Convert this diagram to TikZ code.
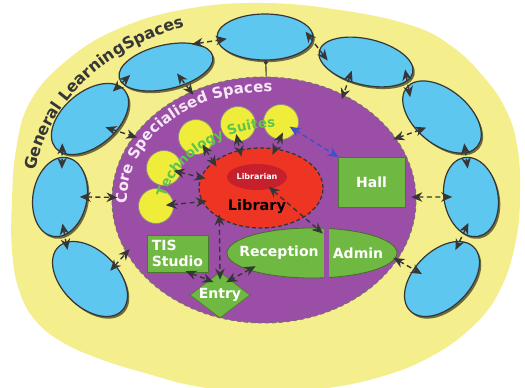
\documentclass[tikz,border=0pt]{standalone}
\usepackage{fontspec}
\setmainfont{DejaVu Sans}
\usetikzlibrary{shapes.geometric,arrows.meta,decorations.text,shadows}
\definecolor{ybg}{HTML}{F4EE8C}
\definecolor{blu}{HTML}{5EC7EF}
\definecolor{pur}{HTML}{9B4EA6}
\definecolor{redl}{HTML}{EE3524}
\definecolor{redd}{HTML}{C5202C}
\definecolor{grn}{HTML}{6FB841}
\definecolor{ycol}{HTML}{EFEC3A}
\definecolor{ink}{HTML}{363636}
\definecolor{tgrn}{HTML}{5EC44C}
\definecolor{arrblue}{HTML}{4050C8}
\definecolor{corewhite}{HTML}{F8E8F6}
\begin{document}
\begin{tikzpicture}[x=1pt,y=-1pt,
  blueell/.style={ellipse, draw=ink, line width=1.2pt, fill=blu, inner sep=0pt,
     drop shadow={shadow xshift=1.8pt, shadow yshift=-2.2pt, opacity=0.55, fill=black}},
  conn/.style={draw=ink, line width=1.4pt, dash pattern=on 5pt off 3.5pt,
     >={Stealth[length=11pt,width=9.5pt,inset=3.5pt]}, <->},
  gbox/.style={fill=grn, draw=grn!65!black, line width=0.6pt, text=white,
     font=\fontsize{14}{16}\selectfont\bfseries, inner sep=0pt},
  suite/.style={circle, fill=ycol, draw=black!45, line width=0.7pt, minimum size=35pt, inner sep=0pt},
  lbl/.style={text=white, font=\fontsize{14}{16}\selectfont\bfseries, inner sep=0pt}
]
\useasboundingbox (0,0) rectangle (525,388);
\fill[white] (0,0) rectangle (525,388);

% general learning area
\fill[ybg] plot[smooth cycle, tension=0.7] coordinates {
 (262,3) (340,10) (410,25) (450,45) (482,75) (505,108) (517,145) (520,190)
 (516,240) (500,290) (472,327) (430,357) (380,377) (320,389) (255,393)
 (195,386) (145,373) (100,359) (62,342) (35,320) (19,290) (12,250) (12,200)
 (16,150) (30,102) (66,61) (118,29) (186,9)};

% core specialised spaces
\node[ellipse, fill=pur, draw=ink!70, line width=1pt, dash pattern=on 4pt off 3pt,
  minimum width=304pt, minimum height=246pt, inner sep=0pt] (core) at (264,200) {};

\path[decorate, decoration={text along path, text align=center,
  text={|\fontsize{15}{15}\selectfont\bfseries\color{corewhite}|Core Specialised Spaces}}]
  plot[domain=0:110, samples=80] ({264+137*cos(190-\x)}, {200-108*sin(190-\x)});

% blue learning spaces
\node[blueell, minimum width=96pt, minimum height=46pt] (T) at (265,37) {};
\node[blueell, minimum width=96pt, minimum height=44pt, rotate=13] (L1) at (166,67) {};
\node[blueell, minimum width=96pt, minimum height=46pt, rotate=-13] (R1) at (366,62) {};
\node[blueell, minimum width=90pt, minimum height=54pt, rotate=40] (L2) at (90,119) {};
\node[blueell, minimum width=92pt, minimum height=54pt, rotate=-40] (R2) at (442,117) {};
\node[blueell, minimum width=80pt, minimum height=54pt, rotate=80] (L3) at (60,197) {};
\node[blueell, minimum width=80pt, minimum height=54pt, rotate=-80] (R3) at (471,197) {};
\node[blueell, minimum width=90pt, minimum height=56pt, rotate=-45] (L4) at (90,279) {};
\node[blueell, minimum width=90pt, minimum height=56pt, rotate=45] (R4) at (442,279) {};

\path[decorate, decoration={text along path, text align=center,
  text={|\fontsize{16}{16}\selectfont\bfseries\color{ink}|General LearningSpaces}}]
  plot[domain=0:84, samples=80] ({261+228*cos(184-\x)}, {196-180*sin(184-\x)});

% library
\node[ellipse, fill=redl, draw=ink, line width=1.3pt, dash pattern=on 4pt off 2.5pt,
  minimum width=124pt, minimum height=80pt, inner sep=0pt] (lib) at (261,188) {};
\node[ellipse, fill=redd, text=white, font=\fontsize{8}{9}\selectfont\bfseries,
  minimum width=60pt, minimum height=26pt, inner sep=0pt] (lbn) at (257,177) {Librarian};
\node[font=\fontsize{14.5}{16}\selectfont\bfseries, text=black, inner sep=0pt] (libtxt) at (257,207) {Library};

% technology suites
\node[suite] (c1) at (281,122) {};
\node[suite] (c2) at (238,124) {};
\node[suite] (c3) at (196,137) {};
\node[suite] (c4) at (164,168) {};
\node[suite] (c5) at (156,206) {};

% green spaces
\node[gbox, minimum width=67pt, minimum height=50pt] (hall) at (371.5,182) {Hall};
\node[gbox, minimum width=61pt, minimum height=37pt, align=left] (tis) at (177.5,253.5) {TIS\\Studio};
\node[gbox, diamond, aspect=1.3, minimum width=60pt, minimum height=46pt] (entry) at (220,295) {Entry};
\node[ellipse, fill=grn, draw=grn!60!black, line width=0.8pt, minimum width=170pt,
  minimum height=50pt, inner sep=0pt] (ra) at (312,253) {};
\draw[pur, line width=5pt] (326,226) -- (326,280);
\node[lbl] (rec) at (279,253) {Reception};
\node[lbl] (adm) at (358,253) {Admin};

\path[decorate, decoration={text along path, text align=center,
  text={|\fontsize{13.5}{13.5}\selectfont\bfseries\color{tgrn}|Technology Suites}}]
  plot[domain=0:100, samples=80] ({280+117*cos(182-\x)}, {215-88*sin(182-\x)});

% connectors between learning spaces
\draw[conn, shorten <=-4pt, shorten >=-10pt] (L1.25) -- (T.184);
\draw[conn, shorten <=-12pt, shorten >=-14pt] (T.-5) -- (R1.178);
\draw[conn, shorten <=-12pt, shorten >=-12pt] (R1.-12) -- (R2.177);
\draw[conn, shorten <=-10pt, shorten >=-12pt] (R2.-17) -- (R3.177);
\draw[conn, shorten <=-12pt, shorten >=-10pt] (R3.-22) -- (R4.20);
\draw[conn, shorten <=-12pt, shorten >=-9pt] (L1.187) -- (L2.9);
\draw[conn, shorten <=-10pt, shorten >=-12pt] (L2.191) -- (L3.7);
\draw[conn, shorten <=-12pt, shorten >=-8pt] (L3.197) -- (L4.168);

% learning spaces to core
\draw[conn, shorten <=-14pt, shorten >=-4pt] (L1.-55) -- (core.124);
\draw[ink, line width=1.1pt, {Circle[length=4pt]}-] (T.-88) -- (core.89);
\draw[conn, shorten <=-11pt, shorten >=-5pt] (R1.240) -- (core.53);
\draw[conn, shorten <=-10pt, shorten >=-3pt] (R2.249) -- (core.25);
\draw[conn, shorten <=-12pt, shorten >=-4pt] (L2.-64) -- (core.154);
\draw[conn, shorten <=-8pt, shorten >=-6pt] (L3.-80) -- (core.179);
\draw[conn, shorten <=-8pt, shorten >=-5pt] (L4.74) -- (core.201);
\draw[conn, shorten <=6pt, shorten >=-9pt] (hall.-24) -- (R3.260);
\draw[conn, shorten <=-2pt, shorten >=-10pt] (ra.-4) -- (R4.116);

% inside the core
\draw[conn, shorten <=-8pt, shorten >=-7pt] (c1.265) -- (lib.70);
\draw[conn, shorten <=-8pt, shorten >=-7pt] (c2.270) -- (lib.119);
\draw[conn, shorten <=-8pt, shorten >=-6pt] (c3.-53) -- (lib.151);
\draw[conn, shorten <=-8pt, shorten >=-5pt] (c4.-15) -- (lib.170);
\draw[conn, shorten <=-8pt, shorten >=-5pt] (c5.5) -- (lib.193);
\draw[conn, draw=arrblue, shorten <=-8pt, shorten >=-1pt] (c1.-30) -- (hall.north west);
\draw[conn, shorten <=-3pt, shorten >=-9pt] (lbn.-40) -- (ra.81);
\draw[conn, shorten <=-4pt, shorten >=-8pt] (lib.-144) -- (entry.north);
\draw[conn, shorten <=-3pt, shorten >=-5pt] (tis.-60) -- (entry.127);
\draw[conn, shorten <=-8pt, shorten >=-5pt] (ra.-165) -- (entry.55);
\end{tikzpicture}
\end{document}
